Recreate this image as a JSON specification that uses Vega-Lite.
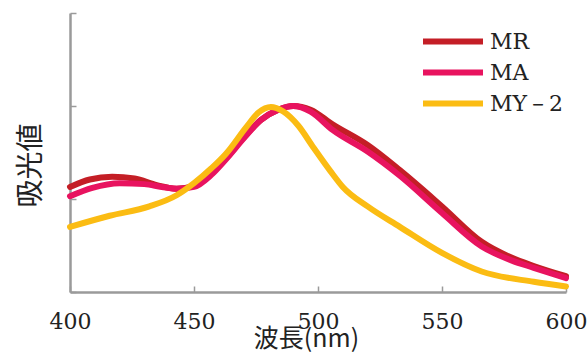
{
  "$schema": "https://vega.github.io/schema/vega-lite/v6.json",
  "width": 496,
  "height": 279,
  "autosize": {"type": "none"},
  "padding": {"left": 70, "top": 13, "right": 21, "bottom": 64},
  "background": "white",
  "config": {"view": {"stroke": null}},
  "data": {"values": [
    {"wl": 400, "v": 1.13, "s": "MR"},
    {"wl": 408, "v": 1.21, "s": "MR"},
    {"wl": 417, "v": 1.24, "s": "MR"},
    {"wl": 426, "v": 1.22, "s": "MR"},
    {"wl": 435, "v": 1.15, "s": "MR"},
    {"wl": 443, "v": 1.11, "s": "MR"},
    {"wl": 450, "v": 1.14, "s": "MR"},
    {"wl": 457, "v": 1.28, "s": "MR"},
    {"wl": 463, "v": 1.44, "s": "MR"},
    {"wl": 470, "v": 1.66, "s": "MR"},
    {"wl": 477, "v": 1.85, "s": "MR"},
    {"wl": 484, "v": 1.96, "s": "MR"},
    {"wl": 490, "v": 2.0, "s": "MR"},
    {"wl": 497, "v": 1.96, "s": "MR"},
    {"wl": 506, "v": 1.8, "s": "MR"},
    {"wl": 520, "v": 1.58, "s": "MR"},
    {"wl": 533, "v": 1.31, "s": "MR"},
    {"wl": 550, "v": 0.92, "s": "MR"},
    {"wl": 566, "v": 0.54, "s": "MR"},
    {"wl": 578, "v": 0.37, "s": "MR"},
    {"wl": 587, "v": 0.28, "s": "MR"},
    {"wl": 600, "v": 0.17, "s": "MR"},

    {"wl": 400, "v": 1.03, "s": "MA"},
    {"wl": 409, "v": 1.12, "s": "MA"},
    {"wl": 420, "v": 1.17, "s": "MA"},
    {"wl": 430, "v": 1.16, "s": "MA"},
    {"wl": 437, "v": 1.13, "s": "MA"},
    {"wl": 443, "v": 1.11, "s": "MA"},
    {"wl": 450, "v": 1.13, "s": "MA"},
    {"wl": 457, "v": 1.26, "s": "MA"},
    {"wl": 463, "v": 1.43, "s": "MA"},
    {"wl": 470, "v": 1.65, "s": "MA"},
    {"wl": 477, "v": 1.85, "s": "MA"},
    {"wl": 484, "v": 1.96, "s": "MA"},
    {"wl": 490, "v": 2.0, "s": "MA"},
    {"wl": 497, "v": 1.94, "s": "MA"},
    {"wl": 506, "v": 1.74, "s": "MA"},
    {"wl": 520, "v": 1.51, "s": "MA"},
    {"wl": 533, "v": 1.25, "s": "MA"},
    {"wl": 550, "v": 0.85, "s": "MA"},
    {"wl": 566, "v": 0.49, "s": "MA"},
    {"wl": 578, "v": 0.34, "s": "MA"},
    {"wl": 587, "v": 0.26, "s": "MA"},
    {"wl": 600, "v": 0.15, "s": "MA"},

    {"wl": 400, "v": 0.7, "s": "MY－2"},
    {"wl": 416, "v": 0.82, "s": "MY－2"},
    {"wl": 432, "v": 0.92, "s": "MY－2"},
    {"wl": 443, "v": 1.04, "s": "MY－2"},
    {"wl": 450, "v": 1.17, "s": "MY－2"},
    {"wl": 457, "v": 1.33, "s": "MY－2"},
    {"wl": 463, "v": 1.49, "s": "MY－2"},
    {"wl": 471, "v": 1.77, "s": "MY－2"},
    {"wl": 476, "v": 1.93, "s": "MY－2"},
    {"wl": 481, "v": 1.99, "s": "MY－2"},
    {"wl": 486, "v": 1.94, "s": "MY－2"},
    {"wl": 492, "v": 1.79, "s": "MY－2"},
    {"wl": 498, "v": 1.56, "s": "MY－2"},
    {"wl": 505, "v": 1.3, "s": "MY－2"},
    {"wl": 510, "v": 1.13, "s": "MY－2"},
    {"wl": 520, "v": 0.92, "s": "MY－2"},
    {"wl": 533, "v": 0.7, "s": "MY－2"},
    {"wl": 550, "v": 0.42, "s": "MY－2"},
    {"wl": 566, "v": 0.22, "s": "MY－2"},
    {"wl": 587, "v": 0.11, "s": "MY－2"},
    {"wl": 600, "v": 0.06, "s": "MY－2"}
  ]},
  "mark": {"type": "line", "interpolate": "monotone", "strokeWidth": 6, "strokeCap": "round"},
  "encoding": {
    "x": {
      "field": "wl", "type": "quantitative",
      "scale": {"domain": [400, 600], "nice": false},
      "axis": {
        "title": "波長(nm)", "titleFont": "Noto Sans CJK JP", "titleFontSize": 25, "titleFontWeight": "normal",
        "titleColor": "#222", "titlePadding": -6, "titleX": 236,
        "values": [400, 450, 500, 550, 600],
        "labelFont": "DejaVu Serif", "labelFontSize": 22, "labelColor": "#222",
        "labelPadding": 25, "labelFlush": false,
        "tickSize": -6, "tickColor": "#9a9a9a", "tickWidth": 1.5,
        "domainColor": "#9a9a9a", "domainWidth": 2.5, "grid": false
      }
    },
    "y": {
      "field": "v", "type": "quantitative",
      "scale": {"domain": [0, 3], "nice": false},
      "axis": {
        "title": "吸光値", "titleFont": "Noto Sans CJK JP", "titleFontSize": 28, "titleFontWeight": "normal",
        "titleColor": "#222", "titlePadding": 24, "titleY": 152,
        "values": [0, 1, 2, 3], "labels": false,
        "tickSize": -6, "tickColor": "#9a9a9a", "tickWidth": 1.5,
        "domainColor": "#9a9a9a", "domainWidth": 2.5, "grid": false
      }
    },
    "color": {
      "field": "s", "type": "nominal",
      "scale": {"domain": ["MR", "MA", "MY－2"], "range": ["#c41e26", "#e8135f", "#fbbc13"]},
      "legend": {
        "title": null, "orient": "none", "legendX": 350, "legendY": 16,
        "symbolType": "stroke", "symbolSize": 3600, "symbolStrokeWidth": 6,
        "clipHeight": 25,
        "labelFont": "DejaVu Serif", "labelFontSize": 22, "labelColor": "#222",
        "labelOffset": 4, "rowPadding": 6
      }
    }
  }
}
